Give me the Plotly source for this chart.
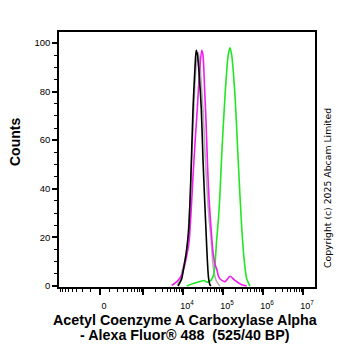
import numpy as np
import plotly.graph_objects as go

# ---- data (fluorescence intensity, counts) ----
black_x = [7500, 9280, 10290, 11890, 13730, 15400, 17780, 19950, 21380, 23040, 25120, 28680, 31620, 34870, 38240, 40510, 43400, 47320, 50120]
black_y = [0, 3, 7, 13, 22, 40, 72.8, 90, 97, 95, 88, 72.8, 52, 35, 20, 11, 3.5, 0.5, 0]

gray_x = [7080, 8410, 9440, 10590, 11890, 13340, 14960, 16790, 18840, 21130, 24130, 25850, 28180, 31620, 35480, 39810, 44670, 50120, 56230, 64940, 74990, 84140]
gray_y = [0.5, 2.5, 6, 9, 13, 21, 35, 55, 75, 90, 96, 93, 85, 72.8, 55, 40, 28, 20, 9, 3, 1, 0]

mag_x = [5220, 6310, 7630, 9280, 10590, 12240, 14130, 15850, 17780, 20540, 22780, 25850, 29350, 31620, 34870, 37580, 40970, 44670, 50120, 56230, 63100, 69590, 77200, 84140, 112200, 149600, 199500, 293400, 391300]
mag_y = [0.3, 1.2, 2.5, 4.5, 7.5, 12, 18, 30, 45, 62, 72.8, 88, 97, 95, 80, 68, 50, 36, 24, 14, 9, 7, 4, 2.9, 1.8, 4, 2.3, 0.5, 0]

green_x = [12400, 18100, 26600, 33500, 40500, 47300, 53100, 58000, 62400, 68800, 77200, 84100, 91700, 112000, 135000, 150000, 165000, 200000, 241000, 293000, 341000, 391000, 473000]
green_y = [0, 1, 1.9, 2.3, 1.6, 2, 3, 4.5, 8, 18, 28, 38, 52, 78, 95, 98, 95, 78, 51, 24.3, 10.2, 3, 0]

major_vals = [0, 1e3, 1e4, 1e5, 1e6, 1e7]
major_text = ["0", "", "10<sup>4</sup>", "10<sup>5</sup>", "10<sup>6</sup>", "10<sup>7</sup>"]
y_ticks = [0, 20, 40, 60, 80, 100]

# ---- biexponential-like display transform ----
C = 84.0
def T(v):
    v = np.asarray(v, dtype=float)
    return np.arcsinh(v / (2 * C)) / np.log(10) + np.log10(C)

minor_vals = ([-k * 100 for k in range(1, 10)] + [k * 100 for k in range(1, 10)]
              + [k * 10 ** e for e in range(3, 7) for k in range(2, 10)])

FONT = "Liberation Sans, Arial, sans-serif"

fig = go.Figure()
for xs, ys, col in [(gray_x, gray_y, "#b0b0b0"), (green_x, green_y, "#22e622"),
                    (mag_x, mag_y, "#f01cf0"), (black_x, black_y, "#000000")]:
    fig.add_trace(go.Scatter(x=T(xs), y=ys, mode="lines",
                             line=dict(color=col, width=1.6, shape="spline", smoothing=0.7),
                             showlegend=False, hoverinfo="skip"))

fig.update_layout(
    width=362, height=351,
    margin=dict(l=59, r=47, t=32, b=64),
    paper_bgcolor="white", plot_bgcolor="white",
    font=dict(family=FONT, color="black"),
)
fig.update_xaxes(
    range=[0.9, 7.3], showgrid=False, zeroline=False,
    showline=True, linecolor="black", linewidth=1.5, mirror=True,
    tickmode="array", tickvals=T(major_vals).tolist(), ticktext=major_text,
    ticks="outside", ticklen=6, tickwidth=1.5, tickcolor="black",
    tickfont=dict(size=9, family=FONT), ticklabelshift=4, ticklabelstandoff=3,
    minor=dict(tickmode="array", tickvals=T(minor_vals).tolist(), ticks="outside",
               ticklen=3, tickwidth=1, tickcolor="black"),
)
fig.update_yaxes(
    range=[-0.4, 104.5], showgrid=False, zeroline=False,
    showline=True, linecolor="black", linewidth=1.5, mirror=True,
    tickmode="array", tickvals=y_ticks,
    ticks="outside", ticklen=5, tickwidth=1.5, tickcolor="black",
    tickfont=dict(size=9.5, family=FONT),
    minor=dict(tickmode="array", tickvals=[5, 10, 15, 25, 30, 35, 45, 50, 55, 65, 70, 75, 85, 90, 95],
               ticks="outside", ticklen=3, tickwidth=1, tickcolor="black"),
)

def px_x(px):
    return (px - 59) / 256.0

def px_y(py):
    return (287 - py) / 255.0

fig.add_annotation(text="<b>Counts</b>", textangle=-90, x=px_x(15), y=px_y(142),
                   xref="paper", yref="paper", showarrow=False,
                   font=dict(size=14, family=FONT), xanchor="center", yanchor="middle")
fig.add_annotation(text="<b>Acetyl Coenzyme A Carboxylase Alpha</b>", x=px_x(185), y=px_y(320),
                   xref="paper", yref="paper", showarrow=False,
                   font=dict(size=14.3, family=FONT), xanchor="center", yanchor="middle")
fig.add_annotation(text="<b>- Alexa Fluor® 488  (525/40 BP)</b>", x=px_x(185), y=px_y(335),
                   xref="paper", yref="paper", showarrow=False,
                   font=dict(size=14.3, family=FONT), xanchor="center", yanchor="middle")
fig.add_annotation(text="Copyright (c) 2025 Abcam Limited", textangle=-90, x=px_x(327), y=px_y(188),
                   xref="paper", yref="paper", showarrow=False,
                   font=dict(size=9.3, family="DejaVu Sans"), xanchor="center", yanchor="middle")

fig.write_html("out.html")
